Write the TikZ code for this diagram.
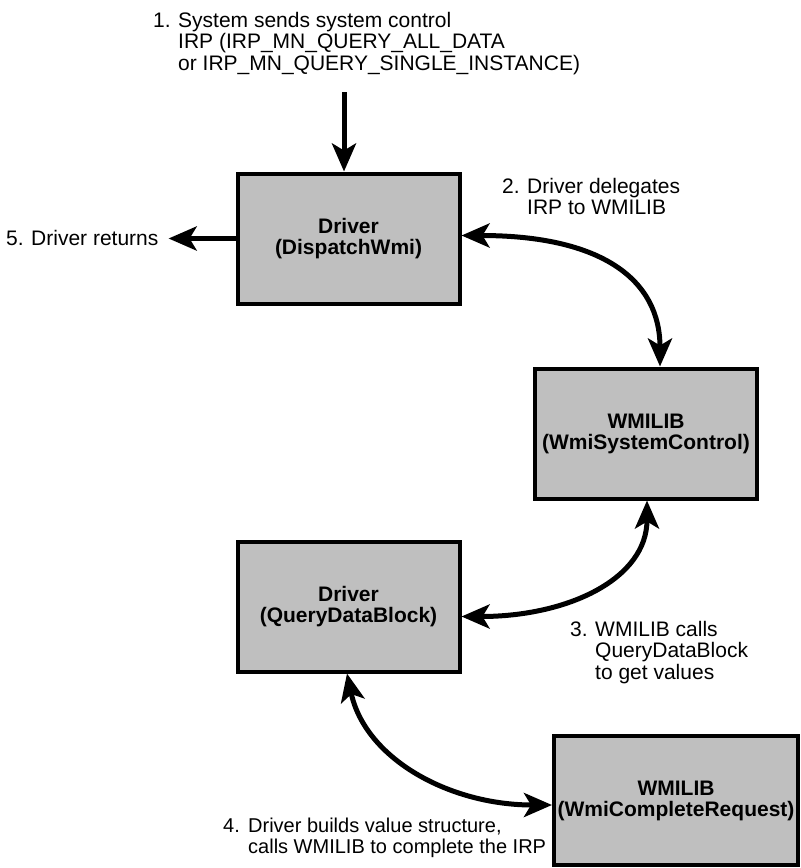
\documentclass[tikz,border=0pt]{standalone}
\usepackage{fontspec}
\setmainfont{Liberation Sans}
\usetikzlibrary{arrows.meta}
\newcommand{\labelsize}{\fontsize{21}{21}\selectfont}
\newcommand{\steptext}[2]{\begin{tabular}[t]{@{}p{25pt}@{}l@{}}#1&#2\end{tabular}}
\tikzstyle{module} = [rectangle, draw=black, line width=4pt, fill=black!25, minimum width=222pt, minimum height=130pt, align=center, inner sep=2pt, font=\labelsize\bfseries]
\tikzstyle{note} = [anchor=base west, inner sep=0pt, font=\labelsize]
\tikzstyle{arrow} = [line width=5pt, -{Stealth[length=28pt, width=24pt, inset=7pt]}]
\tikzstyle{twoway} = [line width=5pt, {Stealth[length=28pt, width=24pt, inset=7pt]}-{Stealth[length=28pt, width=24pt, inset=7pt]}]

\begin{document}
\begin{tikzpicture}[x=1pt, y=-1pt]

        \path[fill=white, use as bounding box] (0,0) rectangle (801,868);

        \node (dispatch) [module] at (348.5,238.5) {Driver\\(DispatchWmi)};
        \node (syscontrol) [module] at (646,433.5) {WMILIB\\(WmiSystemControl)};
        \node (querydata) [module] at (348.5,606.5) {Driver\\(QueryDataBlock)};
        \node (complete) [module, minimum width=244pt, minimum height=129pt] at (676,800.5) {WMILIB\\(WmiCompleteRequest)};

        \node (step1) [note] at (153,27) {\steptext{1.}{System sends system control\\&IRP (IRP\_MN\_QUERY\_ALL\_DATA\\&or IRP\_MN\_QUERY\_SINGLE\_INSTANCE)}};
        \node (step2) [note] at (502,193) {\steptext{2.}{Driver delegates\\&IRP to WMILIB}};
        \node (step3) [note] at (570,636) {\steptext{3.}{WMILIB calls\\&QueryDataBlock\\&to get values}};
        \node (step4) [note, font=\fontsize{20}{21}\selectfont] at (223,832) {\steptext{4.}{Driver builds value structure,\\&calls WMILIB to complete the IRP}};
        \node (step5) [note, inner xsep=10pt] at (-4,245) {\steptext{5.}{Driver returns}};

        \coordinate (irpin) at (344,92);

        \draw [arrow] (irpin) -- (irpin |- dispatch.north);
        \draw [arrow] (dispatch.west) -- (dispatch.west -| step5.east);
        \draw [twoway] ([yshift=3pt]dispatch.east) .. controls +(140,0) and +(0,-87) .. ([xshift=14pt]syscontrol.north);
        \draw [twoway] ([xshift=1pt]syscontrol.south) .. controls +(0,78) and +(107,0) .. ([yshift=-10pt]querydata.east);
        \draw [twoway] ([xshift=-1.5pt]querydata.south) .. controls +(18,85) and +(-103,0) .. ([yshift=-4.5pt]complete.west);

    \end{tikzpicture}
\end{document}
